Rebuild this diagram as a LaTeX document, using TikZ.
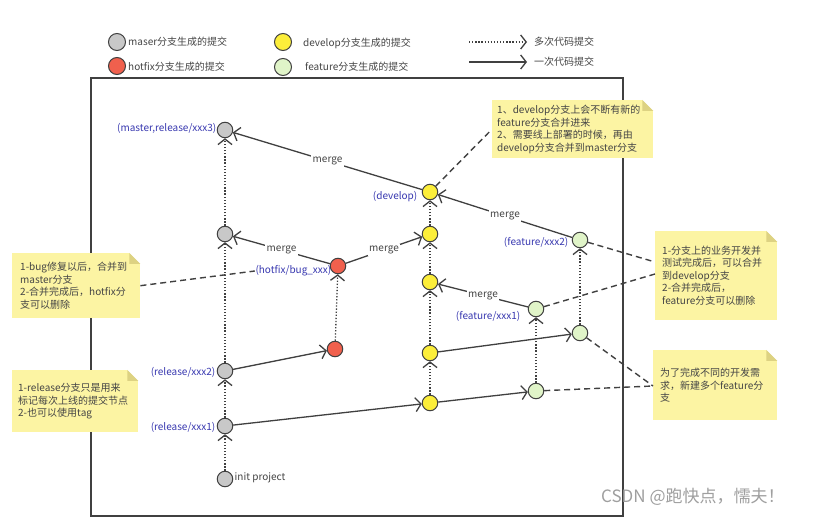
\documentclass[tikz,border=0pt]{standalone}
\usepackage{fontspec}
\setmainfont{Noto Sans CJK SC}
\usetikzlibrary{arrows.meta,calc}
\definecolor{linecol}{HTML}{404040}
\definecolor{graycol}{HTML}{C8C8C8}
\definecolor{redcol}{HTML}{F0604D}
\definecolor{yelcol}{HTML}{FCEE3A}
\definecolor{grncol}{HTML}{E0F4C8}
\definecolor{lblblue}{HTML}{3838B0}
\definecolor{txtgray}{HTML}{454545}
\definecolor{notefill}{HTML}{FCF4A3}
\definecolor{foldcol}{HTML}{DDD282}
\tikzset{
  commit/.style={circle, draw=linecol, line width=1pt, minimum size=15.5pt, inner sep=0pt},
  mc/.style={commit, fill=graycol},
  hc/.style={commit, fill=redcol},
  dc/.style={commit, fill=yelcol},
  fc/.style={commit, fill=grncol},
  legc/.style={commit, minimum size=17pt},
  tip/.style={-{Straight Barb[length=5.5pt,width=14pt,line width=1.3pt]}},
  one/.style={draw=linecol, line width=1.3pt, tip},
  many/.style={draw=linecol, line width=1.3pt, dash pattern=on 1.3pt off 1.8pt, tip},
  noteline/.style={draw=linecol, line width=1.4pt, dash pattern=on 6pt off 4pt},
  lbl/.style={text=lblblue, font=\fontsize{10}{12}\selectfont, inner sep=0.5pt},
  legtxt/.style={text=txtgray, font=\fontsize{10}{12}\selectfont, inner sep=0pt, anchor=west},
  mergelbl/.style={fill=white, text=txtgray, font=\fontsize{10}{12}\selectfont, inner sep=1.5pt},
  note/.style={fill=notefill, anchor=north west, align=left, text=txtgray,
    font=\fontsize{10}{12.5}\selectfont, inner ysep=0pt}
}
\begin{document}
\begin{tikzpicture}[x=1pt,y=-1pt]
\useasboundingbox[fill=white] (0,0) rectangle (822,518);

% frame
\draw[linecol, line width=1.3pt] (91,78) rectangle (623,516);

% legend
\node[legc, fill=graycol] (lg1) at (117,42) {};
\node[legc, fill=redcol] (lg2) at (117,66) {};
\node[legc, fill=yelcol] (lg3) at (283,42) {};
\node[legc, fill=grncol] (lg4) at (283,67) {};
\node[legtxt] (lt1) at (128,42) {maser分支生成的提交};
\node[legtxt] (lt2) at (128,67) {hotfix分支生成的提交};
\node[legtxt] (lt3) at (303,43) {develop分支生成的提交};
\node[legtxt] (lt4) at (305,67) {feature分支生成的提交};
\coordinate (la1) at (469,42);
\coordinate (la2) at (527,42);
\coordinate (lb1) at (469,62);
\coordinate (lb2) at (527,62);
\draw[many] (la1) -- (la2);
\draw[one] (lb1) -- (lb2);
\node[legtxt] (lt5) at (534,42) {多次代码提交};
\node[legtxt] (lt6) at (534,62) {一次代码提交};

% notes
\node[note, text width=151pt, inner xsep=5pt, minimum height=58pt] (noteA) at (492,100)
  {1、develop分支上会不断有新的\\feature分支合并进来\\2、需要线上部署的时候，再由\\develop分支合并到master分支};
\node[note, text width=112pt, inner xsep=8pt, minimum height=65pt] (noteB) at (12,253)
  {1-bug修复以后，合并到\\master分支\\2-合并完成后，hotfix分\\支可以删除};
\node[note, text width=108pt, inner xsep=7pt, minimum height=89pt] (noteC) at (655,231)
  {1-分支上的业务开发并\\测试完成后，可以合并\\到develop分支\\2-合并完成后，\\feature分支可以删除};
\node[note, text width=110pt, inner xsep=7pt, minimum height=70pt] (noteD) at (653,350)
  {为了完成不同的开发需\\求，新建多个feature分\\支};
\node[note, text width=114pt, inner xsep=6pt, minimum height=62pt] (noteE) at (12,370)
  {1-release分支只是用来\\标记每次上线的提交节点\\2-也可以使用tag};
\foreach \n in {noteA,noteB,noteC,noteD,noteE}{
  \fill[white] ($(\n.north east)+(-11,0)$) -- (\n.north east) -- ($(\n.north east)+(0,11)$) -- cycle;
  \fill[foldcol] ($(\n.north east)+(-11,0)$) -- ($(\n.north east)+(0,11)$) -- ($(\n.north east)+(-11,11)$) -- cycle;
}

% commits
\node[mc] (m3) at (225,130) {};
\node[mc] (m2) at (225,234) {};
\node[mc] (r2) at (225,371) {};
\node[mc] (r1) at (225,426) {};
\node[mc] (init) at (225,479) {};
\node[hc] (h1) at (338,266) {};
\node[hc] (h0) at (335,349) {};
\node[dc] (d4) at (430,192) {};
\node[dc] (d3) at (430,234) {};
\node[dc] (d2) at (430,282) {};
\node[dc] (d1) at (430,353) {};
\node[dc] (d0) at (430,403) {};
\node[fc] (f1) at (536,309) {};
\node[fc] (f1b) at (536,391) {};
\node[fc] (f2) at (580,240) {};
\node[fc] (f2b) at (580,333) {};

% labels
\node[lbl, anchor=east] (lm3) at (217,128) {(master,release/xxx3)};
\node[lbl, anchor=east] (ld4) at (418,197) {(develop)};
\node[lbl, anchor=east] (lh1) at (332,271) {(hotfix/bug\_xxx)};
\node[lbl, anchor=east] (lf2) at (569,242) {(feature/xxx2)};
\node[lbl, anchor=east] (lf1) at (521,316) {(feature/xxx1)};
\node[lbl, anchor=east] (lr2) at (216,372) {(release/xxx2)};
\node[lbl, anchor=east] (lr1) at (216,427) {(release/xxx1)};
\node[lbl, anchor=west, text=txtgray] (linit) at (234,478) {init project};

% note connectors
\coordinate (cC1) at (655,262);
\coordinate (cC2) at (655,274);
\coordinate (cD) at (653,386);
\draw[noteline] (d4) -- (noteA.west);
\draw[noteline] (noteB.east) -- (lh1.west);
\draw[noteline] (f2) -- (cC1);
\draw[noteline] (f1) -- (cC2);
\draw[noteline] (f2b) -- (cD);
\draw[noteline] (f1b) -- (cD);

% multi-commit (dotted)
\draw[many] (init) -- (r1);
\draw[many] (r1) -- (r2);
\draw[many] (r2) -- (m2);
\draw[many] (m2) -- (m3);
\draw[many] (h0) -- (h1);
\draw[many] (d0) -- (d1);
\draw[many] (d1) -- (d2);
\draw[many] (d2) -- (d3);
\draw[many] (d3) -- (d4);
\draw[many] (f1b) -- (f1);
\draw[many] (f2b) -- (f2);

% single commits
\draw[one] (r1) -- (d0);
\draw[one] (r2) -- (h0);
\draw[one] (d0) -- (f1b);
\draw[one] (d1) -- (f2b);

% merges
\draw[one] (d4) -- node[mergelbl] (mg1) {merge} (m3);
\draw[one] (h1) -- node[mergelbl] (mg2) {merge} (m2);
\draw[one] (h1) -- node[mergelbl] (mg3) {merge} (d3);
\draw[one] (f1) -- node[mergelbl] (mg4) {merge} (d2);
\draw[one] (f2) -- node[mergelbl] (mg5) {merge} (d4);

% watermark
\node[anchor=west, text=gray!75, font=\fontsize{17}{19}\selectfont, inner sep=0pt] (wm) at (601,497) {CSDN @跑快点，懦夫！};
\end{tikzpicture}
\end{document}
